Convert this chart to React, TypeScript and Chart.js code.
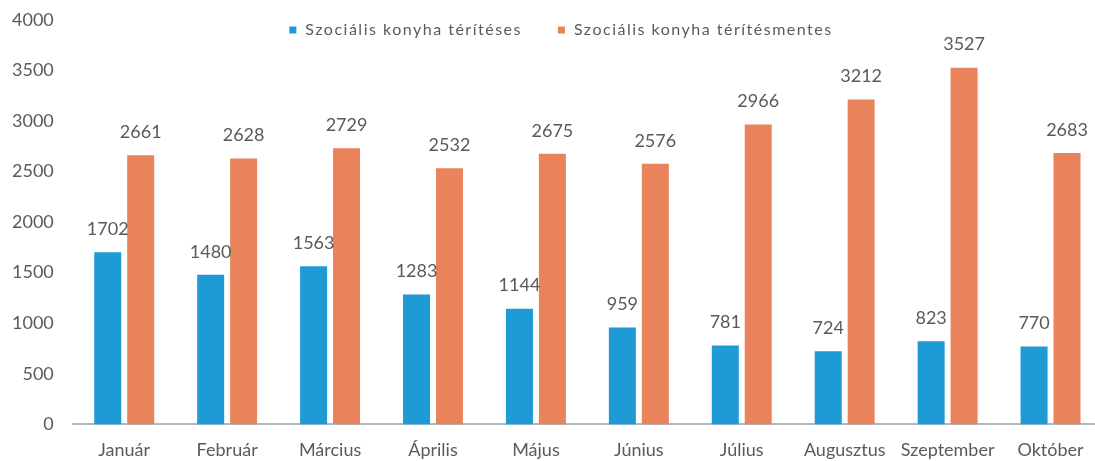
import React, { useEffect, useRef } from "react";
import { Chart, registerables } from "chart.js";

Chart.register(...registerables);

const categories = ["Január", "Február", "Március", "Április", "Május", "Június", "Július", "Augusztus", "Szeptember", "Október"];
const paidLabel = "Szociális konyha térítéses";
const freeLabel = "Szociális konyha térítésmentes";
const paidValues = [1702, 1480, 1563, 1283, 1144, 959, 781, 724, 823, 770];
const freeValues = [2661, 2628, 2729, 2532, 2675, 2576, 2966, 3212, 3527, 2683];

const BLUE = "#1e9ad6";
const ORANGE = "#e8835b";
const TEXT = "#5a5a5a";
const FONT = "Lato, 'Open Sans', sans-serif";

const valueLabels = {
  id: "valueLabels",
  afterDatasetsDraw(chart: any) {
    const ctx = chart.ctx;
    ctx.save();
    ctx.font = `18px ${FONT}`;
    ctx.fillStyle = TEXT;
    ctx.textAlign = "center";
    ctx.textBaseline = "bottom";
    chart.data.datasets.forEach((ds: any, i: number) => {
      const meta = chart.getDatasetMeta(i);
      meta.data.forEach((bar: any, j: number) => {
        ctx.fillText(String(ds.data[j]), bar.x, bar.y - 14);
      });
    });
    ctx.restore();
  },
};

const customLegend = {
  id: "customLegend",
  afterDraw(chart: any) {
    const ctx = chart.ctx;
    ctx.save();
    ctx.font = `16px ${FONT}`;
    (ctx as any).letterSpacing = "1.5px";
    ctx.textBaseline = "middle";
    ctx.textAlign = "left";
    const items = chart.data.datasets.map((d: any) => ({ label: d.label, color: d.backgroundColor }));
    const box = 7;
    const gapBox = 9;
    const gapItems = 36;
    const widths = items.map((it: any) => box + gapBox + ctx.measureText(it.label).width);
    const total = widths.reduce((a: number, b: number) => a + b, 0) + gapItems * (items.length - 1);
    let x = 561 - total / 2;
    const y = 40;
    items.forEach((it: any, i: number) => {
      ctx.fillStyle = it.color;
      ctx.fillRect(x, y - box / 2, box, box);
      ctx.fillStyle = TEXT;
      ctx.fillText(it.label, x + box + gapBox, y);
      x += widths[i] + gapItems;
    });
    ctx.restore();
  },
};

export default function App() {
  const ref = useRef<HTMLCanvasElement>(null);
  useEffect(() => {
    if (!ref.current) return;
    const chart = new Chart(ref.current, {
      type: "bar",
      data: {
        labels: categories,
        datasets: [
          { label: paidLabel, data: paidValues, backgroundColor: BLUE, barPercentage: 0.82, categoryPercentage: 0.64 },
          { label: freeLabel, data: freeValues, backgroundColor: ORANGE, barPercentage: 0.82, categoryPercentage: 0.64 },
        ],
      },
      options: {
        responsive: false,
        animation: false,
        layout: { padding: { top: -3, bottom: -12, left: -7, right: 0 } },
        plugins: { legend: { display: false }, tooltip: { enabled: false } },
        scales: {
          x: {
            grid: { display: false, drawTicks: false },
            border: { display: true, color: "#b0b8c4", width: 2 },
            ticks: { color: TEXT, font: { size: 18, family: FONT }, padding: 15, maxRotation: 0, autoSkip: false },
          },
          y: {
            min: 0,
            max: 4000,
            grid: { display: false, drawTicks: false },
            border: { display: false },
            ticks: {
              stepSize: 500,
              color: TEXT,
              font: { size: 18, family: FONT },
              padding: 19,
              callback: (v: any) => String(v),
            },
          },
        },
      },
      plugins: [valueLabels, customLegend],
    });
    return () => chart.destroy();
  }, []);
  return (
    <div style={{ position: "fixed", left: 0, top: 0, width: 1095, height: 461, overflow: "hidden", background: "#fff" }}>
      <canvas ref={ref} width={1102} height={474} style={{ display: "block", marginTop: -10 }} />
    </div>
  );
}
